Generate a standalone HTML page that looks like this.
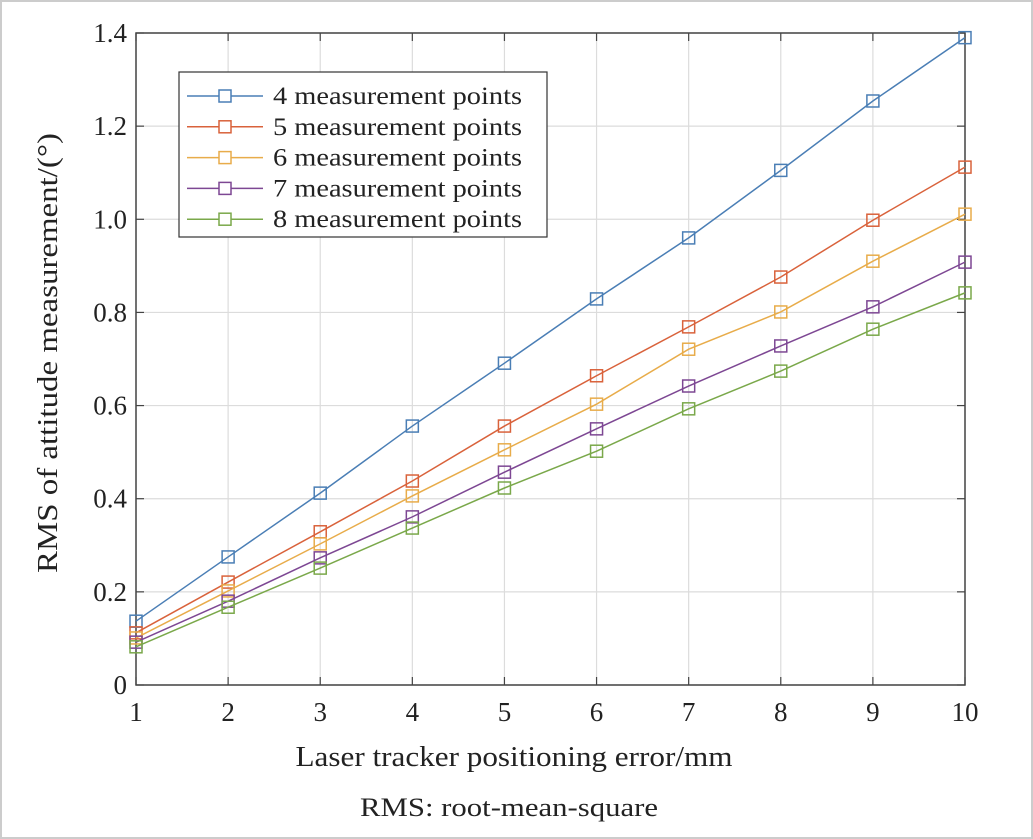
<!DOCTYPE html>
<html><head><meta charset="utf-8"><style>
body{margin:0;background:#fff;}
svg{display:block;font-family:"Liberation Serif",serif;}
</style></head><body>
<svg id="c" width="1033" height="839">
<rect x="1" y="1" width="1031" height="837" fill="#fff" stroke="#ccc" stroke-width="2"/>
</svg>
<script>
const xCats=[1,2,3,4,5,6,7,8,9,10];
const yTicks=[0,0.2,0.4,0.6,0.8,1.0,1.2,1.4];
const yTickLabels=["0","0.2","0.4","0.6","0.8","1.0","1.2","1.4"];
const seriesNames=["4 measurement points","5 measurement points","6 measurement points","7 measurement points","8 measurement points"];
const s4=[0.137,0.275,0.412,0.556,0.691,0.829,0.960,1.105,1.254,1.390];
const s5=[0.112,0.221,0.329,0.438,0.556,0.664,0.769,0.876,0.998,1.112];
const s6=[0.101,0.202,0.303,0.406,0.505,0.603,0.721,0.801,0.910,1.011];
const s7=[0.092,0.180,0.273,0.361,0.457,0.550,0.642,0.728,0.812,0.908];
const s8=[0.082,0.167,0.251,0.337,0.423,0.502,0.593,0.674,0.764,0.842];
const colors=["#4a7eb5","#d9623b","#e8ac4a","#7d4793","#7aa84a"];
const series=[s4,s5,s6,s7,s8];
const L=136,R=965,T=33,B=685;
const X=v=>L+(v-1)/9*(R-L);
const Y=v=>B-v/1.4*(B-T);
const svg=document.getElementById('c');
const NS='http://www.w3.org/2000/svg';
function mk(t,a,p){const e=document.createElementNS(NS,t);for(const k in a)e.setAttribute(k,a[k]);(p||svg).appendChild(e);return e;}
xCats.forEach(v=>{const g=mk('line',{x1:X(v),x2:X(v),y1:T,y2:B,stroke:'#dcdcdc','stroke-width':1.2});

});
yTicks.forEach(v=>{const g=mk('line',{x1:L,x2:R,y1:Y(v),y2:Y(v),stroke:'#dcdcdc','stroke-width':1.2});

});
const ax=mk('rect',{x:L,y:T,width:R-L,height:B-T,fill:'none',stroke:'#444','stroke-width':1.5});


xCats.forEach(v=>{mk('line',{x1:X(v),x2:X(v),y1:B,y2:B-8,stroke:'#444','stroke-width':1.2});mk('line',{x1:X(v),x2:X(v),y1:T,y2:T+8,stroke:'#444','stroke-width':1.2});
const t=mk('text',{x:X(v),y:B+36,'text-anchor':'middle','font-size':27,fill:'#222'});t.textContent=v;

});
yTicks.forEach((v,i)=>{mk('line',{x1:L,x2:L+8,y1:Y(v),y2:Y(v),stroke:'#444','stroke-width':1.2});mk('line',{x1:R,x2:R-8,y1:Y(v),y2:Y(v),stroke:'#444','stroke-width':1.2});
const t=mk('text',{x:L-9,y:Y(v)+9,'text-anchor':'end','font-size':27,fill:'#222'});t.textContent=yTickLabels[i];

});
series.forEach((s,k)=>{const g=mk('g',{});


mk('polyline',{points:s.map((v,i)=>X(xCats[i])+','+Y(v)).join(' '),fill:'none',stroke:colors[k],'stroke-width':1.5},g);
s.forEach((v,i)=>{const m=mk('rect',{x:X(xCats[i])-6,y:Y(v)-6,width:12,height:12,fill:'none',stroke:colors[k],'stroke-width':1.5},g);

});});
const lg=mk('g',{});


mk('rect',{x:179,y:72,width:368,height:165,fill:'#fff',stroke:'#333','stroke-width':1.2},lg);
seriesNames.forEach((n,k)=>{const y=96+k*30.8;
const e=mk('g',{},lg);


mk('line',{x1:187,x2:263,y1:y,y2:y,stroke:colors[k],'stroke-width':1.5},e);
mk('rect',{x:219,y:y-6,width:12,height:12,fill:'#fff',stroke:colors[k],'stroke-width':1.5},e);
const t=mk('text',{x:273,y:y+8,'font-size':25,fill:'#222',textLength:249,lengthAdjust:'spacingAndGlyphs'},e);t.textContent=n;});
const xt=mk('text',{x:514,y:766,'text-anchor':'middle','font-size':28,fill:'#222',textLength:437,lengthAdjust:'spacingAndGlyphs'});xt.textContent='Laser tracker positioning error/mm';


const yt=mk('text',{x:0,y:0,'text-anchor':'middle','font-size':28,fill:'#222',textLength:440,lengthAdjust:'spacingAndGlyphs',transform:'translate(57,353) rotate(-90)'});yt.textContent='RMS of attitude measurement/(°)';


const cp=mk('text',{x:509,y:816,'text-anchor':'middle','font-size':26,fill:'#222',textLength:298,lengthAdjust:'spacingAndGlyphs'});cp.textContent='RMS: root-mean-square';


</script>
</body></html>
